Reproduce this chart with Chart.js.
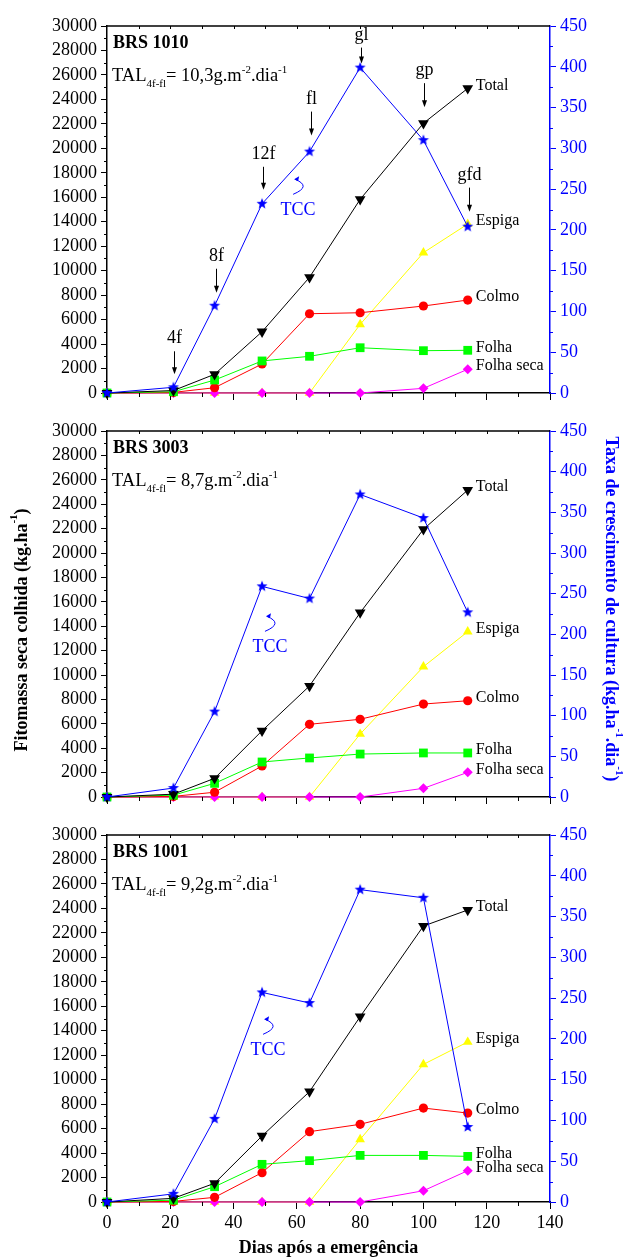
<!DOCTYPE html>
<html lang="pt">
<head>
  <meta charset="UTF-8" />
  <title>Fitomassa seca e TCC - BRS 1010, 3003, 1001</title>
  <script src="https://cdn.jsdelivr.net/npm/chart.js@4.4.1/dist/chart.umd.min.js"></script>
  <style>
    body { margin: 0; background: #fff; }
    #wrap { position: relative; width: 629px; height: 1260px; }
    canvas { position: absolute; left: 0; }
  </style>
</head>
<body>
  <div id="wrap">
    <canvas id="c1" width="629" height="410" style="top:0px"></canvas>
    <canvas id="c2" width="629" height="410" style="top:410px"></canvas>
    <canvas id="c3" width="629" height="440" style="top:820px"></canvas>
  </div>

  <script>
    // ---- dados ----
    const dias = [0, 21, 34, 49, 64, 80, 100, 114];
    const cultivares = ['BRS 1010', 'BRS 3003', 'BRS 1001'];
    const talValores = ['10,3', '8,7', '9,2'];

    // uma linha por cultivar, na ordem de cultivares
    const total = [
      [0, 200, 1530, 5010, 9460, 15830, 22050, 24900],
      [0, 230, 1530, 5430, 9100, 15110, 21940, 25160],
      [0, 300, 1530, 5400, 9020, 15150, 22560, 23870]
    ];
    const colmo = [
      [0, 50, 430, 2370, 6480, 6560, 7110, 7600],
      [0, 50, 390, 2540, 5960, 6370, 7620, 7890],
      [0, 50, 380, 2400, 5750, 6350, 7680, 7270]
    ];
    const folha = [
      [0, 100, 1060, 2620, 3000, 3700, 3460, 3490],
      [0, 150, 1120, 2870, 3200, 3520, 3610, 3610],
      [0, 150, 1250, 3080, 3380, 3810, 3810, 3730]
    ];
    const espiga = [
      [0, 0, 0, 0, 0, 5610, 11470, 13810],
      [0, 0, 0, 0, 0, 5160, 10680, 13550],
      [0, 0, 0, 0, 0, 5120, 11250, 13080]
    ];
    const folhaSeca = [
      [0, 0, 0, 0, 0, 0, 380, 1940],
      [0, 0, 0, 0, 0, 0, 710, 2020],
      [0, 0, 0, 0, 0, 0, 920, 2560]
    ];
    // taxa de crescimento de cultura (eixo da direita)
    const tcc = [
      [0, 7, 107, 232, 296, 399, 310, 204],
      [0, 11, 105, 259, 244, 372, 343, 227],
      [0, 10, 102, 257, 244, 383, 373, 92]
    ];
    // estadios marcados no primeiro painel (dias[1..7])
    const estadios = ['4f', '8f', '12f', 'fl', 'gl', 'gp', 'gfd'];

    const ticksFitomassa = [0, 2000, 4000, 6000, 8000, 10000, 12000, 14000, 16000, 18000, 20000, 22000, 24000, 26000, 28000, 30000];
    const ticksTaxa = [0, 50, 100, 150, 200, 250, 300, 350, 400, 450];
    const ticksDias = [0, 20, 40, 60, 80, 100, 120, 140];

    // ---- estilo ----
    const SERIF = "'Liberation Serif', 'Times New Roman', serif";
    const AZUL = '#0000ff';

    function estrela(r, cor) {
      const c = document.createElement('canvas');
      const s = Math.ceil(r * 2) + 2;
      c.width = c.height = s;
      const g = c.getContext('2d');
      g.fillStyle = cor;
      g.beginPath();
      for (let k = 0; k < 10; k++) {
        const rr = k % 2 ? r * 0.42 : r;
        const a = -Math.PI / 2 + k * Math.PI / 5;
        g.lineTo(s / 2 + rr * Math.cos(a), s / 2 + rr * Math.sin(a));
      }
      g.closePath();
      g.fill();
      return c;
    }
    const marcaEstrela = estrela(5.8, AZUL);

    const series = [
      { nome: 'TCC', dados: tcc, cor: AZUL, ponto: marcaEstrela, r: 6, eixo: 'y2' },
      { nome: 'Total', dados: total, cor: '#000000', ponto: 'triangle', rot: 180, r: 6.2 },
      { nome: 'Folha', dados: folha, cor: '#00ff00', ponto: 'rect', r: 6.2 },
      { nome: 'Colmo', dados: colmo, cor: '#ff0000', ponto: 'circle', r: 4.6 },
      { nome: 'Folha seca', dados: folhaSeca, cor: '#ff00ff', ponto: 'rectRot', r: 5 },
      { nome: 'Espiga', dados: espiga, cor: '#ffff00', ponto: 'triangle', r: 5.6 }
    ];

    // texto com sub/sobrescrito
    function fontePara(size, bold) { return (bold ? 'bold ' : '') + size + 'px ' + SERIF; }
    function larguraRica(ctx, parts, size, bold) {
      let w = 0;
      for (const [t, k] of parts) {
        ctx.font = fontePara(k ? Math.round(size * 0.6) : size, bold);
        w += ctx.measureText(t).width;
      }
      return w;
    }
    function desenhaRico(ctx, parts, x, y, size, bold) {
      for (const [t, k] of parts) {
        ctx.font = fontePara(k ? Math.round(size * 0.6) : size, bold);
        const dy = k === 'sub' ? size * 0.3 : k === 'sup' ? -size * 0.42 : 0;
        ctx.fillText(t, x, y + dy);
        x += ctx.measureText(t).width;
      }
      return x;
    }

    // ajustes de anotacao (px)
    const setaGap = [13, 13, 14, 16, 4, 33, 15];
    const setaLen = [23, 24, 23, 24, 16, 24, 24];
    const posTCC = [[60.4, 224], [51.5, 184], [50.9, 186]]; // em unidades de dados

    const anotacoes = {
      id: 'anotacoes',
      afterDraw(chart, args, opts) {
        const i = opts.painel;
        const ctx = chart.ctx;
        const a = chart.chartArea;
        const sx = chart.scales.x, sy = chart.scales.y, s2 = chart.scales.y2;
        ctx.save();

        // ticks menores e moldura superior
        ctx.lineWidth = 1;
        ctx.strokeStyle = '#000';
        ctx.beginPath();
        for (let v = 1000; v < 30000; v += 2000) {
          const p = Math.round(sy.getPixelForValue(v)) + 0.5;
          ctx.moveTo(a.left, p); ctx.lineTo(a.left - 3, p);
        }
        for (let v = 10; v < 140; v += 20) {
          const p = Math.round(sx.getPixelForValue(v)) + 0.5;
          ctx.moveTo(p, a.bottom); ctx.lineTo(p, a.bottom + 4);
        }
        for (let v = 10; v < 140; v += 10) {
          const p = Math.round(sx.getPixelForValue(v)) + 0.5;
          ctx.moveTo(p, a.top); ctx.lineTo(p, a.top + 3);
        }
        ctx.stroke();
        ctx.lineWidth = 1.5;
        ctx.beginPath();
        ctx.moveTo(a.left, a.top); ctx.lineTo(a.right, a.top);
        ctx.stroke();
        ctx.strokeStyle = AZUL;
        ctx.lineWidth = 1;
        ctx.beginPath();
        for (let v = 25; v < 450; v += 50) {
          const p = Math.round(s2.getPixelForValue(v)) + 0.5;
          ctx.moveTo(a.right, p); ctx.lineTo(a.right + 3, p);
        }
        ctx.stroke();

        // nome da cultivar e TAL
        ctx.fillStyle = '#000';
        ctx.textBaseline = 'alphabetic';
        ctx.textAlign = 'left';
        ctx.font = fontePara(18, true);
        ctx.fillText(cultivares[i], a.left + 6, a.top + 22);
        desenhaRico(ctx, [['TAL'], ['4f-fl', 'sub'], ['= ' + talValores[i] + 'g.m'], ['-2', 'sup'], ['.dia'], ['-1', 'sup']],
          a.left + 5, a.top + 55, 18.5, false);

        // rotulos das series no ultimo ponto
        ctx.textBaseline = 'middle';
        ctx.font = fontePara(16, false);
        series.forEach((s, d) => {
          if (s.nome === 'TCC') return;
          const pts = chart.getDatasetMeta(d).data;
          const pt = pts[pts.length - 1];
          ctx.fillText(s.nome, pt.x + 8, pt.y - 3);
        });

        // rotulo TCC com seta curva
        const cx = sx.getPixelForValue(posTCC[i][0]);
        const cy = s2.getPixelForValue(posTCC[i][1]);
        ctx.fillStyle = AZUL;
        ctx.strokeStyle = AZUL;
        ctx.textAlign = 'center';
        ctx.font = fontePara(18, false);
        ctx.fillText('TCC', cx, cy);
        ctx.lineWidth = 1;
        ctx.beginPath();
        ctx.moveTo(cx - 5, cy - 16);
        ctx.quadraticCurveTo(cx + 14, cy - 24, cx - 3, cy - 31);
        ctx.stroke();
        ctx.beginPath();
        ctx.moveTo(cx - 4, cy - 31);
        ctx.lineTo(cx + 1, cy - 34);
        ctx.lineTo(cx, cy - 29);
        ctx.closePath();
        ctx.fill();

        // estadios fenologicos (so no primeiro painel)
        if (i === 0) {
          const meta = chart.getDatasetMeta(0).data;
          ctx.fillStyle = '#000';
          ctx.strokeStyle = '#000';
          ctx.textBaseline = 'alphabetic';
          ctx.font = fontePara(18, false);
          estadios.forEach((e, k) => {
            const pt = meta[k + 1];
            const x = Math.round(pt.x + 1) + 0.5;
            const tip = pt.y - setaGap[k];
            const topo = tip - setaLen[k];
            ctx.beginPath();
            ctx.moveTo(x, topo); ctx.lineTo(x, tip - 5);
            ctx.stroke();
            ctx.beginPath();
            ctx.moveTo(x - 2.5, tip - 7); ctx.lineTo(x + 2.5, tip - 7); ctx.lineTo(x, tip);
            ctx.closePath();
            ctx.fill();
            ctx.fillText(e, x, topo - 8);
          });
        }

        // titulos dos eixos
        if (opts.titulosY) {
          ctx.textAlign = 'left';
          ctx.textBaseline = 'middle';
          const esq = [['Fitomassa seca colhida (kg.ha'], ['-1', 'sup'], [')']];
          ctx.fillStyle = '#000';
          let w = larguraRica(ctx, esq, 18, true);
          ctx.save();
          ctx.translate(22, 220);
          ctx.rotate(-Math.PI / 2);
          desenhaRico(ctx, esq, -w / 2, 0, 18, true);
          ctx.restore();
          const dir = [['Taxa de crescimento de cultura (kg.ha'], ['-1', 'sup'], ['.dia'], ['-1', 'sup'], [')']];
          ctx.fillStyle = AZUL;
          w = larguraRica(ctx, dir, 18, true);
          ctx.save();
          ctx.translate(611, 199);
          ctx.rotate(Math.PI / 2);
          desenhaRico(ctx, dir, -w / 2, 0, 18, true);
          ctx.restore();
        }
        if (opts.tituloX) {
          ctx.fillStyle = '#000';
          ctx.textAlign = 'center';
          ctx.textBaseline = 'middle';
          ctx.font = fontePara(18, true);
          ctx.fillText('Dias após a emergência', (a.left + a.right) / 2, 428);
        }
        ctx.restore();
      }
    };

    function fixaTicks(lista) {
      return s => { s.ticks = lista.map(v => ({ value: v })); };
    }
    const semSeparador = v => String(v);

    function criaPainel(i, id, topo, base, mostraX) {
      const canvas = document.getElementById(id);
      const h = canvas.height;
      return new Chart(canvas, {
        type: 'line',
        data: {
          datasets: series.map(s => ({
            label: s.nome,
            data: dias.map((d, k) => ({ x: d, y: s.dados[i][k] })),
            yAxisID: s.eixo || 'y',
            borderColor: s.cor,
            backgroundColor: s.cor,
            borderWidth: 1,
            pointStyle: s.ponto,
            pointRotation: s.rot || 0,
            pointRadius: s.r,
            pointBorderWidth: 0,
            pointBackgroundColor: s.cor,
            tension: 0,
            clip: false
          }))
        },
        options: {
          responsive: false,
          animation: false,
          events: [],
          layout: { padding: { top: topo, left: 0, right: 0, bottom: 0 } },
          plugins: {
            legend: { display: false },
            tooltip: { enabled: false },
            anotacoes: { painel: i, titulosY: i === 1, tituloX: mostraX }
          },
          scales: {
            x: {
              type: 'linear', min: 0, max: 140,
              afterBuildTicks: fixaTicks(ticksDias),
              afterFit: s => { s.height = h - base; },
              ticks: { display: mostraX, autoSkip: false, callback: semSeparador, color: '#000', font: { family: SERIF, size: 18 }, padding: 3, maxRotation: 0 },
              grid: { display: true, drawOnChartArea: false, drawTicks: true, tickLength: 7, color: '#000', lineWidth: 1 },
              border: { display: true, color: '#000', width: 1.5 }
            },
            y: {
              position: 'left', min: 0, max: 30000,
              afterBuildTicks: fixaTicks(ticksFitomassa),
              afterFit: s => { s.width = 107; },
              ticks: { autoSkip: false, callback: semSeparador, color: '#000', font: { family: SERIF, size: 18 }, padding: 4 },
              grid: { display: true, drawOnChartArea: false, drawTicks: true, tickLength: 6, color: '#000', lineWidth: 1 },
              border: { display: true, color: '#000', width: 1.5 }
            },
            y2: {
              position: 'right', min: 0, max: 450,
              afterBuildTicks: fixaTicks(ticksTaxa),
              afterFit: s => { s.width = 79; },
              ticks: { autoSkip: false, callback: semSeparador, color: AZUL, font: { family: SERIF, size: 18 }, padding: 4 },
              grid: { display: true, drawOnChartArea: false, drawTicks: true, tickLength: 6, color: AZUL, lineWidth: 1 },
              border: { display: true, color: AZUL, width: 1.5 }
            }
          }
        },
        plugins: [anotacoes]
      });
    }

    criaPainel(0, 'c1', 26, 393, false);
    criaPainel(1, 'c2', 21, 387, false);
    criaPainel(2, 'c3', 15, 382, true);
  </script>
</body>
</html>
